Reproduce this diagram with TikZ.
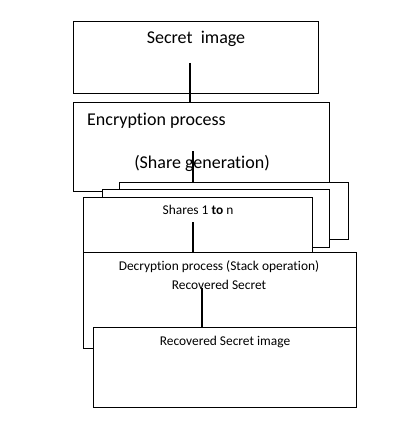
\documentclass[tikz,border=0pt]{standalone}
\usepackage{fontspec}
\setmainfont{Carlito}[Ligatures=NoCommon]
\tikzset{
	box/.style={draw,fill=white,line width=1.1pt,inner sep=0pt,anchor=north west},
	big/.style={font=\fontsize{18}{21}\selectfont},
	small/.style={font=\fontsize{13.4}{15}\selectfont},
	link/.style={line width=1.1pt}
}
\begin{document}
	\begin{tikzpicture}[x=1pt,y=-1pt]
		\useasboundingbox (0,0) rectangle (412,422);
		\node[box,minimum width=245pt,minimum height=72pt] (secret) at (73,21) {};
		\node[big] (secrettxt) at (196,39) {Secret~ image};
		\node[box,minimum width=256pt,minimum height=89pt] (encrypt) at (73,102) {};
		\node[big,anchor=west,inner sep=0pt] (enctxt) at (87,121) {Encryption process};
		\node[big] (sharegen) at (202,163) {(Share generation)};
		\coordinate (s1) at (190,63);
		\coordinate (s2) at (193,151);
		\draw[link] (s1) -- (s1 |- encrypt.north);
		\node[box,minimum width=229pt,minimum height=57pt] (shareC) at (119,182) {};
		\draw[link] (s2) -- (s2 |- shareC.north);
		\node[box,minimum width=227pt,minimum height=58pt] (shareB) at (102,189) {};
		\node[box,minimum width=229pt,minimum height=55pt] (shareA) at (83,197) {};
		\node[small] (sharetxt) at (198,210) {Shares 1 \textbf{to} n};
		\node[box,minimum width=273pt,minimum height=96pt] (decrypt) at (83,252) {};
		\node[small] (dectxt) at (219,267) {Decryption process (Stack operation)};
		\node[small] (rectxt) at (219,285) {Recovered Secret};
		\coordinate (s3) at (193,222);
		\coordinate (s4) at (202,288);
		\draw[link] (s3) -- (s3 |- decrypt.north);
		\node[box,minimum width=263pt,minimum height=80pt] (recovered) at (93,327) {};
		\draw[link] (s4) -- (s4 |- recovered.north);
		\node[small] (finaltxt) at (225,342) {Recovered Secret image};
	\end{tikzpicture}
\end{document}
